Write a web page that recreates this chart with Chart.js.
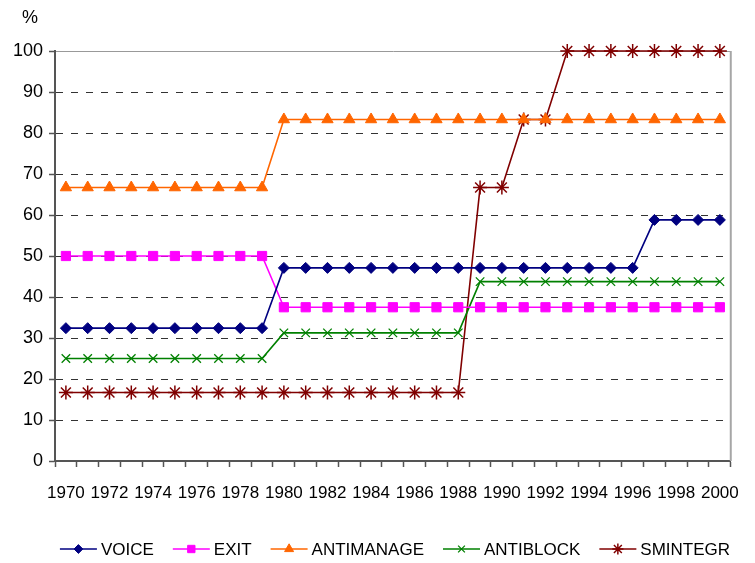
<!DOCTYPE html>
<html>
<head>
<meta charset="utf-8">
<script src="https://cdn.jsdelivr.net/npm/chart.js"></script>
<style>
  html, body { margin: 0; padding: 0; background: #fff; }
  canvas { display: block; }
</style>
</head>
<body>
<canvas id="chart" width="755" height="563"></canvas>
<script>
// categories
const years = ["1970", "1971", "1972", "1973", "1974", "1975", "1976", "1977", "1978", "1979",
               "1980", "1981", "1982", "1983", "1984", "1985", "1986", "1987", "1988", "1989",
               "1990", "1991", "1992", "1993", "1994", "1995", "1996", "1997", "1998", "1999", "2000"];

// series values (%)
const voice      = [32.4, 32.4, 32.4, 32.4, 32.4, 32.4, 32.4, 32.4, 32.4, 32.4,
                    47.1, 47.1, 47.1, 47.1, 47.1, 47.1, 47.1, 47.1, 47.1, 47.1,
                    47.1, 47.1, 47.1, 47.1, 47.1, 47.1, 47.1, 58.8, 58.8, 58.8, 58.8];
const exit       = [50, 50, 50, 50, 50, 50, 50, 50, 50, 50,
                    37.5, 37.5, 37.5, 37.5, 37.5, 37.5, 37.5, 37.5, 37.5, 37.5,
                    37.5, 37.5, 37.5, 37.5, 37.5, 37.5, 37.5, 37.5, 37.5, 37.5, 37.5];
const antimanage = [66.7, 66.7, 66.7, 66.7, 66.7, 66.7, 66.7, 66.7, 66.7, 66.7,
                    83.3, 83.3, 83.3, 83.3, 83.3, 83.3, 83.3, 83.3, 83.3, 83.3,
                    83.3, 83.3, 83.3, 83.3, 83.3, 83.3, 83.3, 83.3, 83.3, 83.3, 83.3];
const antiblock  = [25, 25, 25, 25, 25, 25, 25, 25, 25, 25,
                    31.25, 31.25, 31.25, 31.25, 31.25, 31.25, 31.25, 31.25, 31.25, 43.75,
                    43.75, 43.75, 43.75, 43.75, 43.75, 43.75, 43.75, 43.75, 43.75, 43.75, 43.75];
const smintegr   = [16.7, 16.7, 16.7, 16.7, 16.7, 16.7, 16.7, 16.7, 16.7, 16.7,
                    16.7, 16.7, 16.7, 16.7, 16.7, 16.7, 16.7, 16.7, 16.7, 66.7,
                    66.7, 83.3, 83.3, 100, 100, 100, 100, 100, 100, 100, 100];

// y axis ticks
const yTicks = [0, 10, 20, 30, 40, 50, 60, 70, 80, 90, 100];

Chart.defaults.font.family = "'Liberation Sans', Arial, sans-serif";
Chart.defaults.color = "#000";

function series(label, data, color, style, radius, pbw) {
    return {
        label: label,
        data: data,
        borderColor: color,
        backgroundColor: color,
        borderWidth: 1.6,
        pointStyle: style,
        pointRadius: radius,
        pointBorderWidth: pbw,
        pointBackgroundColor: color,
        pointBorderColor: color,
        tension: 0,
        fill: false,
        clip: false
    };
}

// draws the "%" label, the plot frame and the legend
const extras = {
    id: "extras",
    afterDraw: function(chart) {
        const ctx = chart.ctx;
        const area = chart.chartArea;
        ctx.save();

        ctx.strokeStyle = "#a6a6a6";
        ctx.lineWidth = 2;
        ctx.beginPath();
        ctx.moveTo(area.right, area.top);
        ctx.lineTo(area.right, area.bottom);
        ctx.stroke();

        ctx.fillStyle = "#000";
        ctx.font = "18px 'Liberation Sans', Arial, sans-serif";
        ctx.textAlign = "center";
        ctx.textBaseline = "middle";
        ctx.fillText("%", 30, 18);

        // legend
        ctx.font = "17px 'Liberation Sans', Arial, sans-serif";
        const lineW = 37, gap = 4, spacing = 19, y = 549;
        const sets = chart.data.datasets;
        let total = 0;
        sets.forEach(function(ds, i) {
            total += lineW + gap + ctx.measureText(ds.label).width;
            if (i < sets.length - 1) total += spacing;
        });
        let x = 395 - total / 2;
        ctx.textAlign = "left";
        sets.forEach(function(ds) {
            ctx.strokeStyle = ds.borderColor;
            ctx.lineWidth = 1.6;
            ctx.beginPath();
            ctx.moveTo(x, y);
            ctx.lineTo(x + lineW, y);
            ctx.stroke();
            if (Chart.helpers && Chart.helpers.drawPoint) {
                ctx.fillStyle = ds.pointBackgroundColor;
                ctx.strokeStyle = ds.pointBorderColor;
                ctx.lineWidth = ds.pointBorderWidth;
                Chart.helpers.drawPoint(ctx, {
                    pointStyle: ds.pointStyle,
                    radius: ds.pointRadius * 0.8,
                    rotation: 0,
                    borderWidth: ds.pointBorderWidth
                }, x + lineW / 2, y);
            }
            ctx.fillStyle = "#000";
            ctx.fillText(ds.label, x + lineW + gap, y + 1);
            x += lineW + gap + ctx.measureText(ds.label).width + spacing;
        });
        ctx.restore();
    }
};

new Chart(document.getElementById("chart").getContext("2d"), {
    type: "line",
    data: {
        labels: years,
        datasets: [
            series("VOICE", voice, "#000080", "rectRot", 5.5, 1),
            series("EXIT", exit, "#ff00ff", "rect", 6.5, 1),
            series("ANTIMANAGE", antimanage, "#ff6600", "triangle", 6.5, 1),
            series("ANTIBLOCK", antiblock, "#008000", "crossRot", 6, 1.3),
            series("SMINTEGR", smintegr, "#800000", "star", 7, 1.5)
        ]
    },
    options: {
        responsive: false,
        animation: false,
        layout: { padding: { top: 51, right: 14, left: 0, bottom: 0 } },
        plugins: {
            legend: { display: false },
            tooltip: { enabled: false }
        },
        scales: {
            x: {
                offset: true,
                grid: {
                    offset: true,
                    drawOnChartArea: false,
                    drawTicks: true,
                    tickLength: 6,
                    tickColor: "#555",
                    tickWidth: 1.5
                },
                border: { color: "#555", width: 2 },
                ticks: {
                    autoSkip: false,
                    maxRotation: 0,
                    minRotation: 0,
                    padding: 16,
                    font: { size: 17 },
                    callback: function(val, i) {
                        return i % 2 === 0 ? years[i] : "";
                    }
                },
                afterFit: function(scale) { scale.height = 102; }
            },
            y: {
                min: 0,
                max: 100,
                afterBuildTicks: function(scale) {
                    scale.ticks = yTicks.map(function(v) { return { value: v }; });
                },
                grid: {
                    color: function(c) {
                        if (!c.tick) return "#333";
                        if (c.tick.value === 100) return "#999";
                        if (c.tick.value === 0) return "rgba(0,0,0,0)";
                        return "#333";
                    },
                    lineWidth: 1,
                    drawTicks: true,
                    tickLength: 6,
                    tickColor: "#555",
                    tickWidth: 1.5
                },
                border: {
                    color: "#555",
                    width: 2,
                    dash: function(c) {
                        return c.tick && c.tick.value === 100 ? [] : [7, 8];
                    }
                },
                ticks: {
                    padding: 6,
                    font: { size: 18 }
                },
                afterFit: function(scale) { scale.width = 55; }
            }
        }
    },
    plugins: [extras]
});
</script>
</body>
</html>
